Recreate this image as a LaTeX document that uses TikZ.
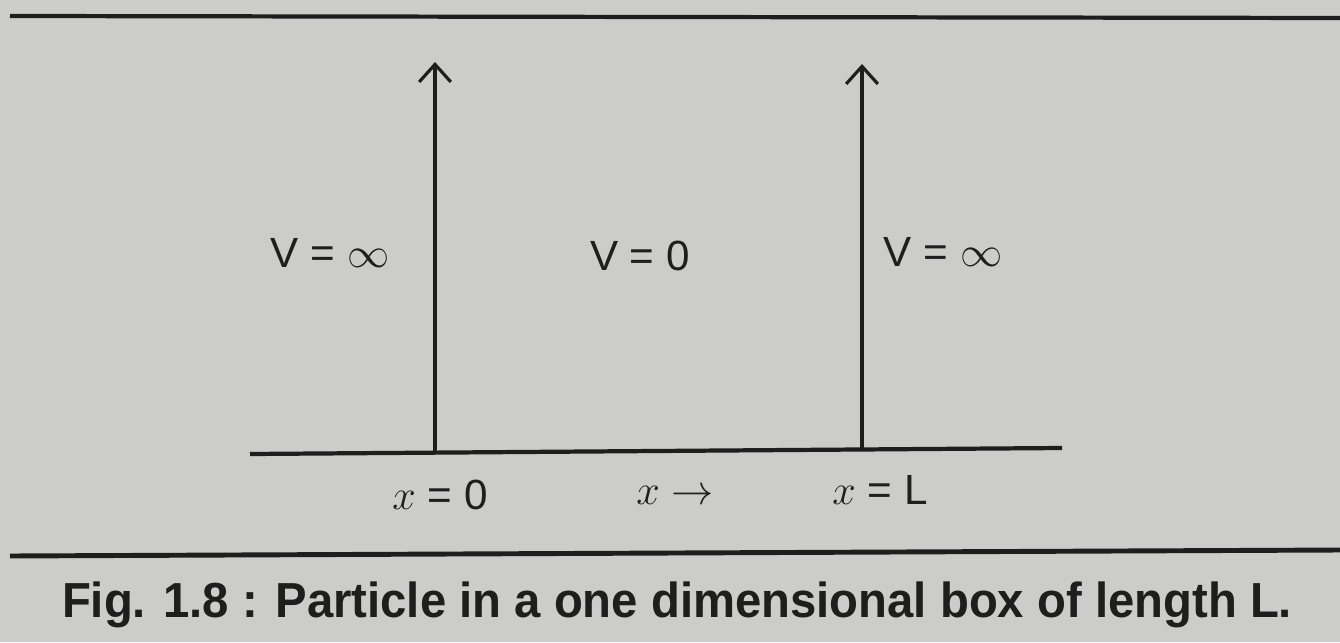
\documentclass[tikz,border=0pt]{standalone}
\usepackage{fontspec}
\setmainfont{Liberation Sans}
\usetikzlibrary{arrows.meta}
\definecolor{paper}{RGB}{204,204,202}
\definecolor{ink}{RGB}{30,30,30}

\begin{document}
\begin{tikzpicture}[x=0.01cm,y=0.01cm,
  wall/.style={draw=ink,line width=0.9pt,-{Straight Barb[length=5pt,width=9pt,line width=0.9pt]}},
  rule/.style={draw=ink,line width=1.2pt},
  lbl/.style={font=\fontsize{12}{14}\selectfont,text=ink}]
\fill[paper] (0,0) rectangle (1340,642);
\useasboundingbox (0,0) rectangle (1340,642);
% page rules
\coordinate (topL) at (10,626);
\coordinate (topR) at (1340,624);
\draw[rule] (topL) -- (topR);
\coordinate (ruleL) at (10,86);
\coordinate (ruleR) at (1340,92);
\draw[rule,line width=1.4pt] (ruleL) -- (ruleR);
% axis and walls
\coordinate (axisL) at (250,188);
\coordinate (axisR) at (1062,194);
\draw[rule] (axisL) -- (axisR);
\coordinate (wallA) at (435,189);
\coordinate (wallAtop) at (435,580);
\coordinate (wallB) at (862,192);
\coordinate (wallBtop) at (862,578);
\draw[wall] (wallA) -- (wallAtop);
\draw[wall] (wallB) -- (wallBtop);
% potentials
\node[lbl] (Vleft) at (330,389) {V = $\infty$};
\node[lbl] (Vmid) at (640,386) {V = 0};
\node[lbl] (Vright) at (943,390) {V = $\infty$};
% positions
\node[lbl] (xzero) at (440,147) {$x$ = 0};
\node[lbl] (xdir) at (675,147) {$x\rightarrow$};
\node[lbl] (xlen) at (880,152) {$x$ = L};
% caption
\node[text=ink,font=\fontsize{14}{17}\selectfont\bfseries] (caption) at (677,37)
  {\scalebox{0.96}[1]{Fig. 1.8 : Particle in a one dimensional box of length L.}};
\end{tikzpicture}
\end{document}
